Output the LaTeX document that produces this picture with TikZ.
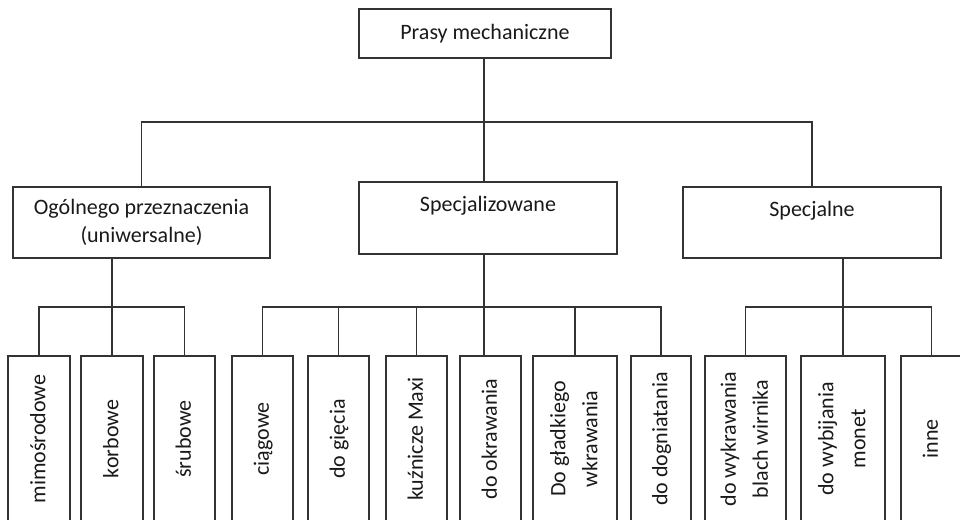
\documentclass[tikz,border=0pt]{standalone}
\usepackage{fontspec}
\setmainfont{Carlito}
\usepackage{graphicx}
\usepackage{tikz}
\usetikzlibrary{positioning}
\definecolor{linegray}{HTML}{333333}
\newcommand{\vtxt}[1]{\rotatebox{90}{\begin{tabular}{@{}c@{}}#1\end{tabular}}}
\tikzset{box/.style={draw=linegray, line width=1.5pt, align=center, inner sep=0pt, outer sep=0pt, text=black!90, font=\fontsize{22}{28}\selectfont}}
\tikzset{leaf/.style={box, minimum height=166pt, font=\fontsize{22}{32}\selectfont}}
\tikzset{line/.style={draw=linegray, line width=1.5pt}}

\begin{document}
\begin{tikzpicture}[x=1pt, y=-1pt]
        \clip (0,0) rectangle (960,519);
        \node [box, minimum width=252pt, minimum height=49pt]  (prasy)     at (485,33.5)  {Prasy mechaniczne};
        \node [box, minimum width=257pt, minimum height=71pt]  (ogolne)    at (141.5,222.5) {Ogólnego przeznaczenia\\(uniwersalne)};
        \node [box, minimum width=258pt, minimum height=72pt]  (specjaliz) at (488,218)   {Specjalizowane\\~};
        \node [box, minimum width=258pt, minimum height=71pt]  (specjalne) at (812,222.5) {Specjalne\\~};
        %
        \node [leaf, minimum width=62pt]                       (mimo)      at (39,439)    {\vtxt{mimośrodowe}};
        \node [leaf, minimum width=62pt, right=11pt of mimo]   (korb)      {\vtxt{korbowe}};
        \node [leaf, minimum width=61pt, right=11pt of korb]   (srub)      {\vtxt{śrubowe}};
        \node [leaf, minimum width=61pt, right=17pt of srub]   (ciag)      {\vtxt{ciągowe}};
        \node [leaf, minimum width=61pt, right=15pt of ciag]   (giecia)    {\vtxt{do gięcia}};
        \node [leaf, minimum width=61pt, right=17pt of giecia] (kuzn)      {\vtxt{kuźnicze Maxi}};
        \node [leaf, minimum width=61pt, right=13pt of kuzn]   (okraw)     {\vtxt{do okrawania}};
        \node [leaf, minimum width=84pt, right=12pt of okraw]  (gladk)     {\vtxt{Do gładkiego\\wkrawania}};
        \node [leaf, minimum width=60pt, right=14pt of gladk]  (dogn)      {\vtxt{do dogniatania}};
        \node [leaf, minimum width=81pt, right=14pt of dogn]   (wykr)      {\vtxt{do wykrawania\\blach wirnika}};
        \node [leaf, minimum width=84pt, right=15pt of wykr]   (monet)     {\vtxt{do wybijania\\monet}};
        \node [leaf, minimum width=61pt, right=16pt of monet]  (inne)      {\vtxt{inne}};
        %
        \coordinate (bustop) at (484,122);
        \coordinate (busy)   at (0,307);
        %
        \path [line] (prasy.south -| bustop) -- (bustop);
        \path [line] (ogolne.north) |- (bustop) -| (specjalne.north);
        \path [line] (bustop) -- (bustop |- specjaliz.north);
        %
        \path [line] (ogolne.south -| korb) -- (korb.north);
        \path [line] (mimo.north) |- (busy -| srub) -- (srub.north);
        %
        \path [line] (specjaliz.south -| bustop) -- (bustop |- okraw.north);
        \path [line] (ciag.north) |- (busy -| dogn) -- (dogn.north);
        \path [line] (giecia.north) -- (giecia.north |- busy);
        \path [line] (kuzn.north) -- (kuzn.north |- busy);
        \path [line] (gladk.north) -- (gladk.north |- busy);
        %
        \path [line] (specjalne.south -| monet) -- (monet.north);
        \path [line] (wykr.north) |- (busy -| inne) -- (inne.north);
    \end{tikzpicture}
\end{document}
